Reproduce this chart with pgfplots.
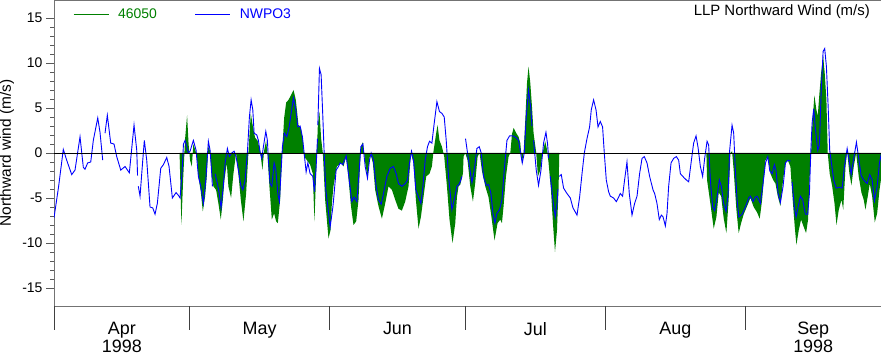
\documentclass[border=0pt]{standalone}
\usepackage{pgfplots}
\pgfplotsset{compat=1.18}
\usepackage{fontspec}
\setmainfont{Liberation Sans}
\definecolor{ncgreen}{RGB}{0,128,0}
\definecolor{ncblue}{RGB}{0,0,255}
\begin{document}
\begin{tikzpicture}
\useasboundingbox (0,0) rectangle (881bp,357bp);
\begin{axis}[
  at={(54bp,51bp)}, anchor=south west,
  scale only axis, width=827bp, height=306bp,
  xmin=0, xmax=183, ymin=-17, ymax=17,
  axis x line*=bottom, axis y line*=left,
  axis line style={black!55, line width=0.8bp},
  tick align=outside,
  major tick length=8bp, minor tick length=4bp,
  every tick/.style={black!65, line width=0.8bp},
  ytick={-15,-10,-5,0,5,10,15}, minor y tick num=4,
  yticklabel style={font=\fontsize{14}{14}\selectfont, /pgf/number format/assume math mode=true},
  xtick={15,45.5,76,106.5,137.5,168},
  xticklabels={{Apr\\1998},May,Jun,Jul,Aug,{Sep\\1998}},
  xtick style={draw=none},
  xticklabel style={font=\fontsize{18}{18.5}\selectfont, align=center, yshift=-4.5bp},
  extra x ticks={0,30,61,91,122,153,183},
  extra x tick labels={},
  extra x tick style={major tick length=24bp, xtick style={draw=black!75}},
  ylabel={Northward wind (m/s)},
  every axis y label/.style={at={(axis description cs:0,0.5)}, xshift=-47bp, rotate=90, anchor=center, font=\fontsize{15.5}{15.5}\selectfont},
  legend columns=2, legend cell align=left,
  legend image code/.code={\draw[#1] (0bp,0bp) -- (35bp,0bp);},
  legend style={at={(rel axis cs:0,1)}, anchor=north west, xshift=19bp, yshift=-9bp, draw=none, fill=none, inner sep=0pt, font=\fontsize{14}{14}\selectfont, nodes={inner sep=0pt}, /tikz/every odd column/.append style={column sep=9bp}, /tikz/every even column/.append style={column sep=38bp}},
  unbounded coords=jump,
]
\addlegendimage{draw=ncgreen, line width=0.9bp}
\addlegendentry{\textcolor{ncgreen}{46050}}
\addlegendimage{draw=ncblue, line width=0.9bp}
\addlegendentry{\textcolor{ncblue}{NWPO3}}

% 46050 (green, filled to zero), segment 1
\addplot[fill=ncgreen, draw=none, forget plot] coordinates {
(27.79,0) (28.19,-8.0) (28.57,-3.0) (29.0,1.5) (29.45,4.2) (29.78,1.0) (30.11,-0.8) (30.49,-1.5)
(30.84,1.0) (31.59,-0.2) (31.95,-2.6) (32.48,-4.3) (32.93,-6.5) (33.44,-4.8) (33.81,-2.6) (34.16,0.8)
(34.54,0.2) (34.92,-2.6) (35.27,-3.7) (35.87,-4.1) (36.38,-5.6) (36.91,-7.4) (37.36,-5.2) (37.71,-3.0)
(38.24,-1.1) (38.59,-3.7) (39.19,-5.0) (39.70,-2.3) (40.29,0) (40.80,-2.3) (41.34,-5.2) (41.92,-7.6)
(42.51,-4.5) (43.02,0) (43.55,4.4) (43.99,3.0) (44.50,1.7) (45.02,1.4) (45.61,0.3) (46.12,-1.9)
(46.50,0.3) (46.94,1.4) (47.22,0) (47.67,-3.7) (48.20,-7.4) (48.71,-6.7) (49.16,-7.6) (49.53,-7.8)
(50.04,-5.2) (50.42,-0.4) (50.93,3.9) (51.37,5.6) (51.89,5.9) (52.42,6.4) (53.0,7.0) (53.51,5.9)
(54.10,3.1) (54.63,2.8) (55.07,1.4) (55.35,-0.4) (55.95,-0.8) (56.68,-1.3) (57.27,-2.3) (57.63,-7.6)
(58.01,-2.3) (58.38,3.1) (58.74,4.6) (59.11,1.6) (59.49,0) (60.0,-5.2) (60.38,-7.4) (60.74,-9.5)
(61.18,-8.6) (61.49,-5.6) (61.84,-3.7) (62.59,-1.5) (63.48,-1.1) (64.06,-1.5) (64.65,-0.4) (65.16,-2.8)
(65.69,-5.8) (66.27,-8.0) (66.87,-7.6) (67.38,-5.2) (67.90,0.7) (68.35,1.2) (68.86,-1.1) (69.37,-2.6)
(69.97,0) (70.56,-1.1) (71.07,-4.1) (71.80,-5.9) (72.56,-7.3) (73.29,-5.6) (74.02,-3.7) (74.77,-4.1)
(75.50,-5.2) (76.23,-6.2) (76.98,-6.4) (77.71,-5.4) (78.45,-3.7) (78.98,0) (79.55,-1.1) (80.08,-5.2)
(80.66,-8.4) (81.19,-7.1) (81.76,-4.9) (82.36,-2.6) (83.09,-2.3) (83.62,-1.5) (83.98,0.2) (84.51,2.0)
(84.87,3.1) (85.30,1.4) (85.84,0.7) (86.35,-0.4) (86.95,-3.7) (87.52,-7.4) (88.19,-10.0) (88.79,-7.8)
(89.16,-4.9) (89.52,-3.7) (89.90,-3.5) (90.49,-2.3) (90.63,-0.4) (91.0,0) (91.51,-0.8) (92.11,-3.7)
(92.70,-5.4) (93.21,-3.3) (93.73,-0.4) (94.17,0) (94.70,-2.0) (95.43,-3.7) (96.15,-4.9) (96.69,-6.7)
(97.48,-9.7) (98.15,-7.8) (98.75,-7.4) (99.12,-7.8) (99.48,-5.9) (100.01,-2.6) (100.59,-0.4) (100.97,0)
(101.35,2.1) (101.71,2.8) (102.29,2.2) (102.80,1.8) (103.18,1.1) (103.56,-1.1) (103.91,0) (104.29,3.7)
(104.67,7.8) (105.01,9.6) (105.39,7.8) (105.76,5.2) (106.12,2.2) (106.71,0) (107.09,-2.6) (107.60,-1.9)
(108.11,0) (108.70,1.3) (109.08,0.4) (109.44,-1.1) (109.97,-4.1) (110.41,-7.8) (110.86,-11.0) (111.30,-8.6)
(111.66,-3.7) (111.81,0)
} \closedcycle;

% 46050 (green), segment 2
\addplot[fill=ncgreen, draw=none, forget plot] coordinates {
(144.36,0) (144.51,-3.0) (145.24,-5.6) (145.98,-8.4) (146.58,-7.1) (147.09,-4.4) (147.63,-4.8) (148.18,-7.2)
(148.78,-8.9) (149.29,-5.2) (149.67,0) (150.04,0.2) (150.40,-1.9) (151.0,-6.3) (151.51,-8.9) (152.04,-7.8)
(152.62,-6.8) (153.37,-5.9) (154.10,-5.0) (154.83,-6.0) (155.58,-6.6) (156.16,-7.3) (156.69,-5.2) (157.44,-0.8)
(157.95,-0.4) (158.55,-2.3) (159.14,-3.0) (159.65,-3.4) (160.16,-4.8) (160.74,-5.9) (161.33,-3.0) (161.86,-1.1)
(162.37,-0.8) (162.95,-1.5) (163.46,-5.2) (163.90,-8.1) (164.28,-10.2) (164.79,-8.6) (165.31,-7.4) (165.89,-8.2)
(166.42,-8.9) (166.86,-7.4) (167.22,-2.6) (167.53,0) (167.82,3.3) (168.26,6.4) (168.70,4.8) (169.0,4.1)
(169.37,6.6) (169.75,8.9) (170.19,10.8) (170.54,8.9) (170.92,5.9) (171.21,0) (171.65,-2.3) (172.20,-3.7)
(172.71,-5.6) (173.15,-8.0) (173.66,-6.3) (174.26,-5.2) (174.64,-6.3) (175.15,-1.5) (175.51,0.2) (176.01,-2.3)
(176.46,-3.6) (176.97,-1.5) (177.50,0) (178.07,-2.6) (178.67,-4.4) (179.18,-5.2) (179.56,-6.3) (180.07,-4.8)
(180.51,-3.4) (181.04,-4.8) (181.62,-7.7) (182.15,-6.7) (182.66,-4.1) (183.1,-2.6)
} \closedcycle;

% NWPO3 (blue line)
\addplot[ncblue, line width=0.9bp, forget plot] coordinates {
(0.0,-7.2) (1.0,-3.8) (2.06,0.4) (2.81,-0.8) (3.92,-2.4) (4.65,-1.9) (5.76,1.8) (6.49,-1.6)
(6.86,-1.8) (7.46,-1.1) (8.13,-1.0) (8.70,1.4) (9.68,3.9) (10.18,2.3) (10.78,-0.8) (10.95,nan)
(11.29,2.2) (11.80,4.2) (12.55,1.1) (13.28,1.0) (13.88,-0.4) (14.77,-1.9) (15.72,-1.5) (16.67,-2.2)
(17.71,3.1) (18.31,0.3) (18.49,-2.5) (18.58,nan) (18.66,-3.7) (19.04,-4.8) (19.64,-0.8) (19.99,1.4)
(20.52,-0.8) (21.25,-6.0) (21.85,-6.1) (22.36,-6.8) (22.87,-5.6) (23.62,-1.7) (24.20,-1.3) (24.95,-0.5)
(25.46,-1.5) (26.19,-5.0) (27.01,-4.4) (27.52,-4.7) (27.90,-5.0) (28.35,-2.0) (28.65,1.0) (29.00,1.4)
(29.73,0) (30.11,0.2) (30.84,1.4) (31.44,0.3) (31.95,-2.6) (32.48,-3.7) (33.05,-5.6) (33.59,-3.0)
(34.16,1.3) (34.54,0.3) (34.92,-2.4) (35.05,-3.7) (35.3,nan) (35.65,-2.3) (36.15,-3.4) (36.53,-4.4)
(36.97,-6.1) (37.48,-3.6) (37.86,-1.1) (38.37,0.5) (38.81,-0.4) (39.34,0) (39.85,0.2) (40.29,-0.4)
(40.80,-1.9) (41.34,-3.6) (41.78,-4.1) (42.29,-3.0) (42.80,0.1) (43.24,4.0) (43.62,5.9) (43.99,4.8)
(44.28,2.2) (44.88,2.0) (45.23,1.4) (45.61,0.1) (45.98,-0.6) (46.34,0.7) (46.87,2.4) (47.22,1.4)
(47.45,-0.8) (47.82,-3.4) (48.20,-3.7) (48.71,-1.1) (49.09,-1.9) (49.53,-4.5) (49.88,-5.4) (50.19,-2.6)
(50.55,0.7) (50.99,2.2) (51.52,1.8) (52.03,2.9) (52.47,4.4) (52.98,6.1) (53.51,4.8) (53.95,2.9)
(54.46,3.0) (54.97,1.8) (55.35,0) (55.79,-2.1) (56.17,-1.1) (56.68,-2.3) (57.27,-2.6) (57.63,-4.3)
(58.01,-1.5) (58.30,1.6) (58.34,nan) (58.38,3.1) (58.74,9.4) (59.11,8.7) (59.49,4.0) (59.78,0)
(60.15,-4.1) (60.60,-6.0) (61.11,-8.2) (61.71,-6.0) (61.90,-5.0) (62.43,-1.9) (62.95,-1.5) (63.32,-1.1)
(63.92,-1.3) (64.65,-0.3) (65.16,-2.3) (65.91,-5.4) (66.42,-4.9) (67.02,-5.4) (67.59,-1.5) (67.90,0.7)
(68.35,1.0) (68.86,-1.5) (69.37,-2.8) (69.81,-0.8) (70.18,0) (70.69,-0.8) (71.29,-3.7) (71.80,-5.2)
(72.40,-5.7) (72.91,-4.5) (73.66,-2.6) (74.39,-1.7) (75.12,-1.5) (75.72,-2.3) (76.23,-3.4) (76.98,-3.7)
(77.71,-3.4) (78.22,-3.0) (78.67,-1.1) (79.11,0.2) (79.55,-0.8) (80.08,-4.1) (80.66,-4.9) (81.19,-5.6)
(81.63,-3.7) (82.14,-0.8) (82.65,0.7) (83.09,1.3) (83.62,1.1) (84.13,3.3) (84.73,5.7) (85.30,4.6)
(85.84,4.4) (86.35,4.0) (86.79,1.4) (87.30,-2.6) (88.05,-6.3) (88.56,-5.2) (89.16,-3.7) (89.73,-3.4)
(90.27,-2.6) (90.6,nan) (91.06,1.6) (91.73,-0.8) (92.48,-3.3) (92.99,-1.9) (93.58,0.5) (94.10,0.7)
(94.54,0) (95.05,-2.6) (95.65,-3.6) (96.15,-3.5) (96.69,-4.5) (97.13,-6.7) (97.57,-7.8) (98.01,-6.7)
(98.59,-6.3) (99.12,-5.2) (99.63,-1.9) (100.23,1.4) (100.81,1.9) (101.56,1.9) (102.29,1.7) (102.80,1.4)
(103.18,0.2) (103.62,-1.1) (104.06,0) (104.50,4.0) (105.01,7.0) (105.54,4.8) (105.76,3.0) (105.9,nan)
(106.12,1.4) (106.71,-1.9) (107.22,-3.6) (107.76,-1.9) (108.33,1.1) (108.86,2.3) (109.22,1.0) (109.44,-0.6)
(109.6,nan) (109.82,-2.6) (110.41,-5.2) (110.92,-7.1) (111.30,-5.6) (111.52,-4.0) (111.65,nan) (111.81,-2.6)
(112.25,-2.4) (112.76,-3.9) (113.51,-4.5) (114.25,-5.0) (114.84,-6.1) (115.73,-6.9) (116.31,-4.9) (116.84,-2.3)
(117.35,0) (117.94,1.6) (118.52,2.9) (118.89,4.8) (119.40,5.9) (119.94,4.8) (120.38,2.9) (120.88,3.5)
(121.39,2.9) (121.77,0) (122.21,-3.0) (122.72,-4.3) (123.10,-4.8) (123.83,-5.0) (124.43,-5.4) (124.94,-4.9)
(125.31,-4.5) (125.82,-4.8) (126.26,-3.0) (126.79,-1.0) (127.30,-4.5) (127.90,-6.9) (128.48,-5.6) (129.01,-4.8)
(129.58,-2.3) (130.12,-0.6) (130.62,-0.4) (131.22,-1.1) (131.80,-2.6) (132.55,-4.1) (132.91,-4.5) (133.43,-5.6)
(133.94,-7.4) (134.39,-6.9) (134.77,-7.1) (135.28,-8.1) (135.65,-6.7) (136.01,-3.7) (136.54,-1.1) (137.12,-0.6)
(137.72,-0.4) (138.23,-0.8) (138.60,-2.3) (139.33,-2.7) (139.93,-3.0) (140.44,-3.2) (140.97,-1.1) (141.54,1.1)
(142.07,1.9) (142.52,0.6) (143.03,-1.5) (143.53,-2.6) (143.98,-0.6) (144.51,1.3) (144.86,0.9) (145.24,-3.0)
(145.75,-6.0) (146.19,-6.4) (146.72,-4.9) (147.23,-3.0) (147.67,-3.7) (148.18,-5.6) (148.71,-6.5) (149.16,-4.6)
(149.51,0.3) (150.04,3.1) (150.40,2.2) (150.77,-1.9) (151.15,-5.2) (151.55,-7.1) (152.26,-6.8) (152.99,-6.0)
(153.72,-5.0) (154.10,-4.8) (154.69,-5.4) (155.20,-4.9) (155.58,-4.8) (156.31,-5.6) (156.82,-3.7) (157.44,-1.1)
(157.95,-0.4) (158.39,-2.0) (158.92,-2.3) (159.41,-1.3) (159.79,-2.0) (160.23,-4.5) (160.74,-5.5) (161.33,-3.7)
(161.86,-1.1) (162.44,-0.8) (162.95,-0.9) (163.1,nan) (163.32,-3.2) (163.84,-6.0) (164.21,-7.1) (164.66,-6.0)
(165.16,-4.8) (165.67,-5.2) (166.27,-6.8) (166.78,-6.8) (167.16,-4.5) (167.45,0) (167.75,3.3) (168.11,4.9)
(168.49,2.7) (169.00,0.3) (169.37,0.9) (169.75,6.6) (170.19,11.3) (170.54,11.6) (170.92,9.6) (171.30,5.2)
(171.65,0.3) (172.03,-1.1) (172.54,-3.0) (173.08,-3.9) (173.80,-3.8) (174.40,-3.9) (174.91,-1.5) (175.51,0.5)
(176.01,-1.0) (176.39,-2.4) (176.97,-0.6) (177.56,1.2) (178.07,-0.6) (178.60,-2.5) (179.18,-3.0) (179.93,-3.4)
(180.51,-2.4) (181.04,-3.0) (181.55,-5.3) (182.15,-3.7) (182.66,-1.1) (183.1,0)
};

\addplot[black, line width=0.9bp, forget plot] coordinates {(0,0) (183,0)};
\draw[black!55, line width=0.8bp] (rel axis cs:0,1) -- (rel axis cs:1,1);
\node[anchor=base east, inner sep=0pt, font=\fontsize{15}{15}\selectfont] at ([xshift=-11bp,yshift=-16bp]rel axis cs:1,1) {LLP Northward Wind (m/s)};
\end{axis}
\end{tikzpicture}
\end{document}
